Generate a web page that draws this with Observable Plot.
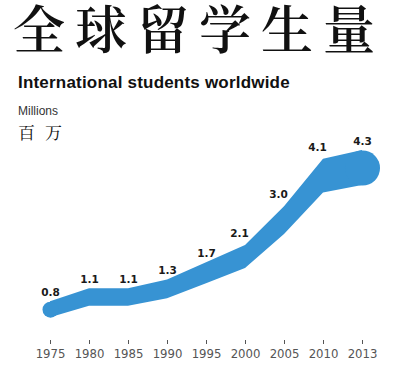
<!DOCTYPE html>
<html>
<head>
<meta charset="utf-8">
<script src="https://cdn.jsdelivr.net/npm/d3@7"></script>
<script src="https://cdn.jsdelivr.net/npm/@observablehq/plot@0.6"></script>
<style>
  @font-face {
    font-family: "TitleCJK";
    src: local("Noto Serif CJK SC SemiBold"), local("NotoSerifCJKsc-SemiBold"), local("Noto Serif CJK SC Medium"), local("NotoSerifCJKsc-Medium"), local("Noto Serif CJK SC"), local("NotoSerifCJKsc-Regular"), local("Noto Sans CJK SC"), local("NotoSansCJKsc-Regular");
    ascent-override: 88%;
    descent-override: 12%;
    line-gap-override: 0%;
  }
  @font-face {
    font-family: "UnitCJK";
    src: local("Noto Serif CJK SC"), local("NotoSerifCJKsc-Regular"), local("Noto Sans CJK SC"), local("NotoSansCJKsc-Regular");
    ascent-override: 88%;
    descent-override: 12%;
    line-gap-override: 0%;
  }
  html, body { margin: 0; padding: 0; background: #fff; }
  #wrap { position: relative; width: 400px; height: 366px; overflow: hidden; }
  .title { position: absolute; left: 13px; top: 3px; font-family: "TitleCJK", "Noto Serif CJK SC", "Noto Sans CJK SC", serif; font-size: 52px; line-height: 52px; letter-spacing: 10px; color: #111; white-space: nowrap; }
  .title .last { letter-spacing: 0; }
  .subtitle { position: absolute; left: 18px; top: 74px; font-family: "Liberation Sans", Arial, sans-serif; font-weight: bold; font-size: 17px; line-height: 17px; color: #111; white-space: nowrap; letter-spacing: 0.2px; }
  .unit { position: absolute; left: 18px; top: 105px; font-family: "Liberation Sans", Arial, sans-serif; font-size: 12px; line-height: 12px; color: #333; }
  .unitcn { position: absolute; left: 18px; top: 124px; font-family: "UnitCJK", "Noto Serif CJK SC", "Noto Sans CJK SC", serif; font-size: 17px; line-height: 17px; color: #111; }
  .unitcn .first { letter-spacing: 10px; }
  #chart { position: absolute; left: 0; top: 120px; }
</style>
</head>
<body>
<div id="wrap">
  <div class="title">全球留学生<span class="last">量</span></div>
  <div class="subtitle">International students worldwide</div>
  <div class="unit">Millions</div>
  <div class="unitcn"><span class="first">百</span>万</div>
  <div id="chart"></div>
</div>
<script>
const years = ["1975", "1980", "1985", "1990", "1995", "2000", "2005", "2010", "2013"];
const values = [0.8, 1.1, 1.1, 1.3, 1.7, 2.1, 3.0, 4.1, 4.3];

const data = years.map((year, i) => ({year, value: values[i]}));

// layout
const W = 400, H = 246, mTop = 30, mBottom = 26, mLeft = 46, mRight = 35;
const yDomain = [-0.1, 4.3];
const pxPerUnit = (H - mTop - mBottom) / (yDomain[1] - yDomain[0]);
const BLUE = "#3793d3";

// band thickness (in data units) grows with the value
const thick = v => 0.27 + 0.126 * v;
const bottom = d => d.value - thick(d.value);
const mid = d => d.value - thick(d.value) / 2;

const first = data[0], last = data[data.length - 1];
const steep = new Set(["2000", "2005", "2010"]);

const chart = Plot.plot({
  width: W,
  height: H,
  marginTop: mTop,
  marginBottom: mBottom,
  marginLeft: mLeft,
  marginRight: mRight,
  style: {
    fontFamily: "'Liberation Sans Narrow', 'DejaVu Sans Condensed', 'Liberation Sans', sans-serif",
    fontSize: "13px",
    color: "#555",
    background: "transparent",
    overflow: "visible"
  },
  x: {type: "point", domain: years, padding: 0, label: null, tickSize: 4, tickPadding: 4},
  y: {domain: yDomain, axis: null},
  marks: [
    Plot.areaY(data, {x: "year", y1: bottom, y2: "value", fill: BLUE, curve: "linear"}),
    Plot.dot([first], {x: "year", y: mid, r: thick(first.value) * pxPerUnit / 2, fill: BLUE, stroke: null}),
    Plot.dot([last], {x: "year", y: mid, r: thick(last.value) * pxPerUnit / 2, fill: BLUE, stroke: null}),
    Plot.text(data.filter(d => !steep.has(d.year)), {
      x: "year", y: "value", text: d => d.value.toFixed(1), dy: -9,
      fill: "#1a1a1a", fontFamily: "DejaVu Sans, sans-serif", fontWeight: "bold", fontSize: 10.5
    }),
    Plot.text(data.filter(d => steep.has(d.year)), {
      x: "year", y: "value", text: d => d.value.toFixed(1), dy: -12, dx: -6,
      fill: "#1a1a1a", fontFamily: "DejaVu Sans, sans-serif", fontWeight: "bold", fontSize: 10.5
    })
  ]
});
document.getElementById("chart").appendChild(chart);
</script>
</body>
</html>
